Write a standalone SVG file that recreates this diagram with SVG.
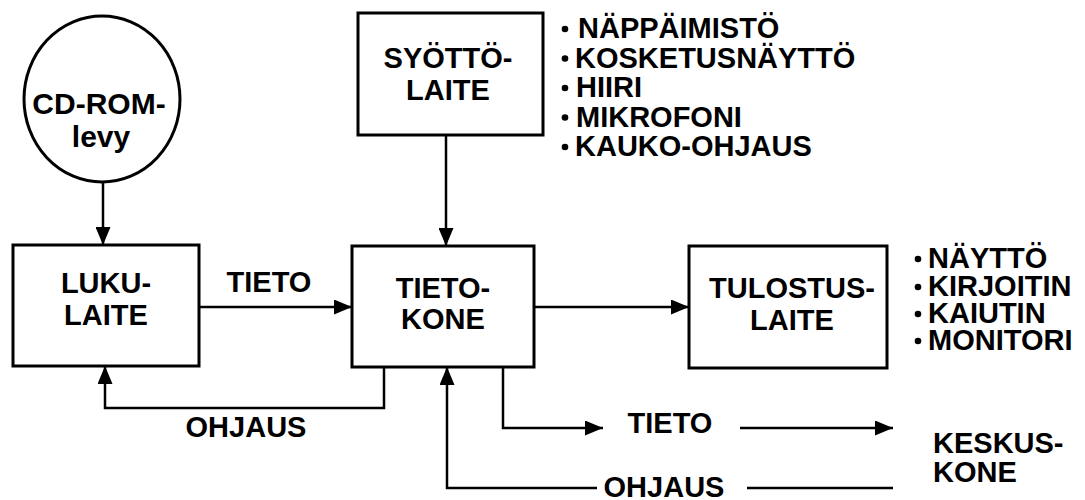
<svg xmlns="http://www.w3.org/2000/svg" width="1085" height="500" viewBox="0 0 1085 500">
  <style>
    .box { fill: #fff; stroke: #000; stroke-width: 3; }
    .wire { fill: none; stroke: #000; stroke-width: 2.5; }
    .lbl { font-family: "Liberation Sans", Arial, sans-serif; font-weight: bold; font-size: 29px; fill: #000; }
    .mid { text-anchor: middle; }
    .item { font-family: "Liberation Sans", Arial, sans-serif; font-weight: bold; font-size: 29px; fill: #000; }
    .dot { fill: #000; }
  </style>
  <defs>
    <marker id="arrow" markerUnits="userSpaceOnUse" markerWidth="18" markerHeight="15" refX="18" refY="7.5" orient="auto">
      <path d="M0,0 L18,7.5 L0,15 Z" fill="#000"/>
    </marker>
  </defs>
  <rect width="1085" height="500" fill="#fff"/>

  <!-- connectors -->
  <g id="connectors">
    <path class="wire" d="M103,183 V245" marker-end="url(#arrow)"/>
    <path class="wire" d="M446,135 V246" marker-end="url(#arrow)"/>
    <path class="wire" d="M199,307 H352" marker-end="url(#arrow)"/>
    <path class="wire" d="M534,307 H689" marker-end="url(#arrow)"/>
    <path class="wire" d="M384,367 V408 H105 V366" marker-end="url(#arrow)"/>
    <path class="wire" d="M503,367 V428 H603" marker-end="url(#arrow)"/>
    <path class="wire" d="M740,428 H893" marker-end="url(#arrow)"/>
    <path class="wire" d="M893,488 H747"/>
    <path class="wire" d="M597,488 H447 V367" marker-end="url(#arrow)"/>
    <text class="lbl mid" x="269" y="292">TIETO</text>
    <text class="lbl mid" x="246" y="437">OHJAUS</text>
    <text class="lbl mid" x="670" y="433">TIETO</text>
    <text class="lbl mid" x="664" y="497">OHJAUS</text>
  </g>

  <!-- CD-ROM disc -->
  <g id="cdrom">
    <ellipse class="box" cx="102" cy="99" rx="78" ry="83"/>
    <text class="lbl mid" x="99" y="114" style="font-size:30px">CD-ROM-</text>
    <text class="lbl mid" x="101" y="147" style="font-size:30px">levy</text>
  </g>

  <!-- reader -->
  <g id="lukulaite">
    <rect class="box" x="13" y="245" width="186" height="121"/>
    <text class="lbl mid" x="106" y="293">LUKU-</text>
    <text class="lbl mid" x="106" y="325">LAITE</text>
  </g>

  <!-- computer -->
  <g id="tietokone">
    <rect class="box" x="352" y="246" width="182" height="121"/>
    <text class="lbl mid" x="443" y="298">TIETO-</text>
    <text class="lbl mid" x="443" y="329">KONE</text>
  </g>

  <!-- input device -->
  <g id="syottolaite">
    <rect class="box" x="358" y="13" width="185" height="122"/>
    <text class="lbl mid" x="448" y="68">SYÖTTÖ-</text>
    <text class="lbl mid" x="448" y="100">LAITE</text>
  </g>

  <!-- input device examples -->
  <g id="input-list">
    <circle class="dot" cx="565" cy="29" r="3.3"/>
    <text class="item" x="578" y="38">NÄPPÄIMISTÖ</text>
    <circle class="dot" cx="565" cy="58.5" r="3.3"/>
    <text class="item" x="575" y="67.5">KOSKETUSNÄYTTÖ</text>
    <circle class="dot" cx="565" cy="88" r="3.3"/>
    <text class="item" x="576" y="97">HIIRI</text>
    <circle class="dot" cx="565" cy="117.5" r="3.3"/>
    <text class="item" x="576" y="126.5">MIKROFONI</text>
    <circle class="dot" cx="565" cy="147" r="3.3"/>
    <text class="item" x="575" y="156">KAUKO-OHJAUS</text>
  </g>

  <!-- output device -->
  <g id="tulostuslaite">
    <rect class="box" x="689" y="246" width="198" height="122"/>
    <text class="lbl mid" x="792" y="298">TULOSTUS-</text>
    <text class="lbl mid" x="792" y="330">LAITE</text>
  </g>

  <!-- output device examples -->
  <g id="output-list">
    <circle class="dot" cx="918" cy="259" r="3.3"/>
    <text class="item" x="928" y="268">NÄYTTÖ</text>
    <circle class="dot" cx="918" cy="287" r="3.3"/>
    <text class="item" x="928" y="296">KIRJOITIN</text>
    <circle class="dot" cx="918" cy="314" r="3.3"/>
    <text class="item" x="928" y="323">KAIUTIN</text>
    <circle class="dot" cx="918" cy="341" r="3.3"/>
    <text class="item" x="928" y="350">MONITORI</text>
  </g>

  <!-- central computer -->
  <g id="keskuskone">
    <text class="lbl" x="933" y="453">KESKUS-</text>
    <text class="lbl" x="933" y="482">KONE</text>
  </g>
</svg>
